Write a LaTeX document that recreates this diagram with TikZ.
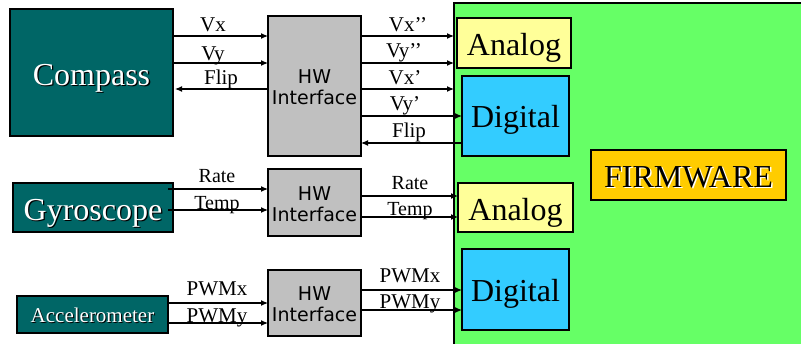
\documentclass[tikz,border=0pt]{standalone}
\usepackage{fontspec}
\setmainfont{Liberation Serif}
\newfontfamily\hwfont{DejaVu Sans}
\usetikzlibrary{arrows.meta}
\definecolor{sensorteal}{HTML}{006666}
\definecolor{hwgray}{HTML}{C0C0C0}
\definecolor{fwgreen}{HTML}{66FF66}
\definecolor{analogyellow}{HTML}{FFFF99}
\definecolor{digitalcyan}{HTML}{33CCFF}
\definecolor{fworange}{HTML}{FFCC00}
\tikzset{
  box/.style={draw=black, line width=1.6pt, inner sep=0pt, outer sep=0pt},
  sensor/.style={box, fill=sensorteal},
  hwbox/.style={box, fill=hwgray, minimum width=93pt},
  analogbox/.style={box, fill=analogyellow},
  digitalbox/.style={box, fill=digitalcyan},
  bigtext/.style={anchor=base, inner sep=0pt, font=\fontsize{32}{32}\selectfont},
  hwtext/.style={anchor=base, inner sep=0pt, font=\hwfont\fontsize{19}{19}\selectfont},
  lbl/.style={anchor=base, inner sep=0pt, font=\fontsize{21}{21}\selectfont},
  arr/.style={line width=1.1pt, -{Latex[length=7pt,width=6pt]}},
}
\begin{document}
\begin{tikzpicture}[x=1pt,y=-1pt]
\useasboundingbox (0,0) rectangle (801,343);

% firmware area
\node[box, fill=fwgreen, minimum width=351pt, minimum height=344pt, anchor=north west] (fw) at (454,3) {};
\node[box, fill=fworange, minimum width=195pt, minimum height=50pt] (core) at (688.5,175) {};
\node[bigtext, text=white] at ([shift={(1.5,1.5)}]core.center |- 0,187) {FIRMWARE};
\node[bigtext] (coretxt) at (core.center |- 0,187) {FIRMWARE};

% input blocks
\node[analogbox, minimum width=114pt, minimum height=50pt] (an1) at (514,43) {};
\node[bigtext] at (an1.center |- 0,55) {Analog};
\node[digitalbox, minimum width=107pt, minimum height=80pt] (dig1) at (515.5,116) {};
\node[bigtext] at (dig1.center |- 0,127) {Digital};
\node[analogbox, minimum width=115pt, minimum height=49pt] (an2) at (515.5,207.5) {};
\node[bigtext] at (an2.center |- 0,220) {Analog};
\node[digitalbox, minimum width=107pt, minimum height=81pt] (dig2) at (515.5,289.5) {};
\node[bigtext] at (dig2.center |- 0,301) {Digital};

% sensors (white lettering with a dark drop shadow)
\node[sensor, minimum width=163pt, minimum height=127pt] (compass) at (91.5,72.5) {};
\node[bigtext, text=black] at ([shift={(1.3,1.3)}]compass.center |- 0,85) {Compass};
\node[bigtext, text=white] at (compass.center |- 0,85) {Compass};

\node[sensor, minimum width=160pt, minimum height=49pt] (gyro) at (93,207.5) {};
\node[bigtext, text=black] at ([shift={(1.3,1.3)}]gyro.center |- 0,220) {Gyroscope};
\node[bigtext, text=white] at (gyro.center |- 0,220) {Gyroscope};

\node[sensor, minimum width=151pt, minimum height=37pt] (accel) at (92.5,314.5) {};
\node[lbl, text=black] at ([shift={(1,1)}]accel.center |- 0,322) {Accelerometer};
\node[lbl, text=white] at (accel.center |- 0,322) {Accelerometer};

% hardware interfaces
\node[hwbox, minimum height=140pt] (hw1) at (314.5,86) {};
\node[hwtext] at (hw1.center |- 0,83) {HW};
\node[hwtext] at (hw1.center |- 0,104) {Interface};
\node[hwbox, minimum height=67pt] (hw2) at (314.5,202.5) {};
\node[hwtext] at (hw2.center |- 0,200) {HW};
\node[hwtext] at (hw2.center |- 0,221) {Interface};
\node[hwbox, minimum height=66pt] (hw3) at (314.5,303) {};
\node[hwtext] at (hw3.center |- 0,300) {HW};
\node[hwtext] at (hw3.center |- 0,321) {Interface};

% compass signals
\draw[arr] (compass.east |- 0,36) -- (hw1.west |- 0,36);
\draw[arr] (compass.east |- 0,63) -- (hw1.west |- 0,63);
\draw[arr] (hw1.west |- 0,89) -- ([xshift=2pt]compass.east |- 0,89);
\node[lbl] (lvx) at (213,31) {Vx};
\node[lbl] (lvy) at (213,60) {Vy};
\node[lbl] (lflip) at (221,84) {Flip};

\draw[arr] (hw1.east |- 0,36) -- (fw.west |- 0,36);
\draw[arr] (hw1.east |- 0,63) -- (fw.west |- 0,63);
\draw[arr] (hw1.east |- 0,89) -- (fw.west |- 0,89);
\draw[arr] (hw1.east |- 0,116) -- (dig1.west |- 0,116);
\draw[arr] (dig1.west |- 0,143) -- (hw1.east |- 0,143);
\node[lbl] (rvx2) at (408,31) {Vx’’};
\node[lbl] (rvy2) at (404,57) {Vy’’};
\node[lbl] (rvx1) at (405,84) {Vx’};
\node[lbl] (rvy1) at (405,110) {Vy’};
\node[lbl] (rflip) at (409,137) {Flip};

% gyroscope signals
\draw[arr] ([xshift=-5pt]gyro.east |- 0,189) -- (hw2.west |- 0,189);
\draw[arr] ([xshift=-5pt]gyro.east |- 0,210) -- (hw2.west |- 0,210);
\node[lbl, font=\fontsize{20}{20}\selectfont] (lrate) at (217,182) {Rate};
\node[lbl, font=\fontsize{20}{20}\selectfont] (ltemp) at (217,209) {Temp};
\draw[arr] (hw2.east |- 0,196) -- (an2.west |- 0,196);
\draw[arr] (hw2.east |- 0,217) -- (an2.west |- 0,217);
\node[lbl, font=\fontsize{20}{20}\selectfont] (rrate) at (410,189) {Rate};
\node[lbl, font=\fontsize{20}{20}\selectfont] (rtemp) at (410,215) {Temp};

% accelerometer signals
\draw[arr] (accel.east |- 0,303) -- (hw3.west |- 0,303);
\draw[arr] (accel.east |- 0,323) -- (hw3.west |- 0,323);
\node[lbl] (lpwmx) at (217,295) {PWMx};
\node[lbl] (lpwmy) at (217,322) {PWMy};
\draw[arr] (hw3.east |- 0,290) -- (dig2.west |- 0,290);
\draw[arr] (hw3.east |- 0,310) -- (dig2.west |- 0,310);
\node[lbl] (rpwmx) at (410,282) {PWMx};
\node[lbl] (rpwmy) at (410,308) {PWMy};
\end{tikzpicture}
\end{document}
